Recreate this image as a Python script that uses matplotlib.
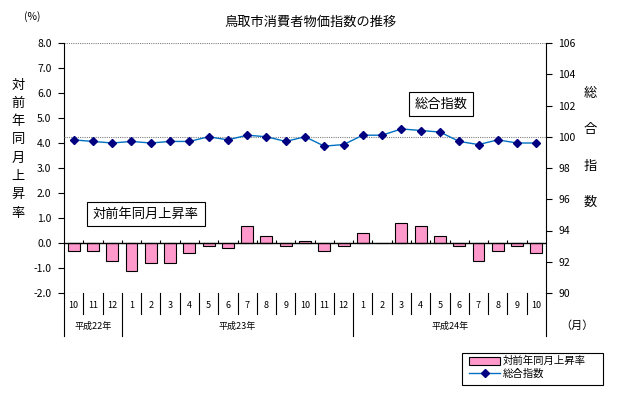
import numpy as np
import matplotlib
matplotlib.use("Agg")
import matplotlib.pyplot as plt
import matplotlib.transforms as mtransforms
from matplotlib.patches import Patch, Rectangle
from matplotlib.lines import Line2D

plt.rcParams['font.family'] = ['Noto Sans CJK JP', 'DejaVu Sans']

# data: Oct 2010 (H22) .. Oct 2012 (H24)
months = ['10', '11', '12', '1', '2', '3', '4', '5', '6', '7', '8', '9', '10', '11', '12',
          '1', '2', '3', '4', '5', '6', '7', '8', '9', '10']
years = ['平成22年', '平成23年', '平成24年']
year_spans = [(0, 3), (3, 15), (15, 25)]   # month index ranges per year
yoy_rate = [-0.3, -0.3, -0.7, -1.1, -0.8, -0.8, -0.4, -0.1, -0.2, 0.7, 0.3, -0.1, 0.1,
            -0.3, -0.1, 0.4, 0.0, 0.8, 0.7, 0.3, -0.1, -0.7, -0.3, -0.1, -0.4]
cpi_index = [99.8, 99.7, 99.6, 99.7, 99.6, 99.7, 99.7, 100.0, 99.8, 100.1, 100.0, 99.7, 100.0,
             99.4, 99.5, 100.1, 100.1, 100.5, 100.4, 100.3, 99.7, 99.5, 99.8, 99.6, 99.6]

W, H = 617, 397
fig = plt.figure(figsize=(W / 100, H / 100), dpi=100)
ax = fig.add_axes([64 / W, 1 - 293 / H, 482 / W, 250 / H])
ax2 = ax.twinx()

x = np.arange(len(months))
ax.bar(x, yoy_rate, width=0.62, color='#FF99CC', edgecolor='black', linewidth=0.8, zorder=3)
ax.set_xlim(-0.5, len(months) - 0.5)
ax.set_ylim(-2, 8)
ax.set_yticks(np.arange(-2, 9, 1))
ax.set_yticklabels(['%.1f' % v for v in np.arange(-2, 9, 1)])
ax.axhline(0, color='black', lw=1, zorder=4)
ax.vlines(x[1:] - 0.5, 0, 0.12, color='black', lw=0.8, zorder=4)
ax.axhline(8, color='gray', lw=0.8, ls=(0, (1, 1)))
ax.axhline(-2, color='gray', lw=0.8, ls=(0, (1, 1)))
ax.set_xticks([])

ax2.plot(x, cpi_index, color='#0070C0', lw=1, marker='D', markersize=4,
         mfc='#000080', mec='#000080', zorder=5)
ax2.set_ylim(90, 106)
ax2.set_yticks(np.arange(90, 107, 2))
ax2.axhline(100, color='gray', lw=0.8, ls=(0, (1, 1)))

for a in (ax, ax2):
    for s in ('top', 'bottom'):
        a.spines[s].set_visible(False)
    a.tick_params(axis='y', labelsize=7.5, length=4, width=0.8, direction='out', pad=5)
ax2.spines['left'].set_visible(False)
ax.spines['right'].set_visible(False)

# category table under the plot
tr = mtransforms.blended_transform_factory(ax.transData, fig.transFigure)
y_top = 1 - 293 / H
y_mid = 1 - 314 / H
y_bot = 1 - 336 / H
bounds = {s for s, e in year_spans} | {e for s, e in year_spans}
for i in range(len(months) + 1):
    yb = y_bot if i in bounds else y_mid
    fig.add_artist(Line2D([i - 0.5, i - 0.5], [y_top, yb], transform=tr, color='black', lw=0.8))
for i, m in enumerate(months):
    fig.text(i, 1 - 305 / H, m, transform=tr, ha='center', va='center', fontsize=6.5)
for name, (s, e) in zip(years, year_spans):
    fig.text((s + e - 1) / 2, 1 - 326 / H, name, transform=tr, ha='center', va='center', fontsize=6.5)

fig.text(577 / W, 1 - 326 / H, '（月）', ha='center', va='center', fontsize=8)
fig.text(32 / W, 1 - 17 / H, '(%)', ha='center', va='center', fontsize=7.5)
fig.text(311 / W, 1 - 22 / H, '鳥取市消費者物価指数の推移', ha='center', va='center', fontsize=9.5)

for k, ch in enumerate('対前年同月上昇率'):
    fig.text(18 / W, 1 - (85 + 18.3 * k) / H, ch, ha='center', va='center', fontsize=9.5)
for k, ch in enumerate('総合指数'):
    fig.text(590 / W, 1 - (94 + 36 * k) / H, ch, ha='center', va='center', fontsize=9.5)

box = dict(boxstyle='square,pad=0.45', fc='white', ec='black', lw=0.8)
fig.text(146 / W, 1 - 214 / H, '対前年同月上昇率', ha='center', va='center', fontsize=9.5, bbox=box)
fig.text(441 / W, 1 - 104 / H, '総合指数', ha='center', va='center', fontsize=9.5, bbox=box)

# legend: frame drawn separately to match the wider box
fig.add_artist(Rectangle((462 / W, 1 - 385 / H), 141 / W, 32 / H, transform=fig.transFigure,
                         fc='white', ec='black', lw=0.8))
handles = [Patch(facecolor='#FF99CC', edgecolor='black', lw=0.8),
           Line2D([], [], color='#0070C0', lw=1, marker='D', markersize=4, mfc='#000080', mec='#000080')]
leg = fig.legend(handles, ['対前年同月上昇率', '総合指数'], loc='upper left',
                 bbox_to_anchor=(467 / W, 1 - 354 / H), fontsize=7.5, frameon=False,
                 borderpad=0.2, labelspacing=0.25, handlelength=3.0, handleheight=0.8,
                 handletextpad=0.2, borderaxespad=0)

fig.savefig('out.png', dpi=100)
